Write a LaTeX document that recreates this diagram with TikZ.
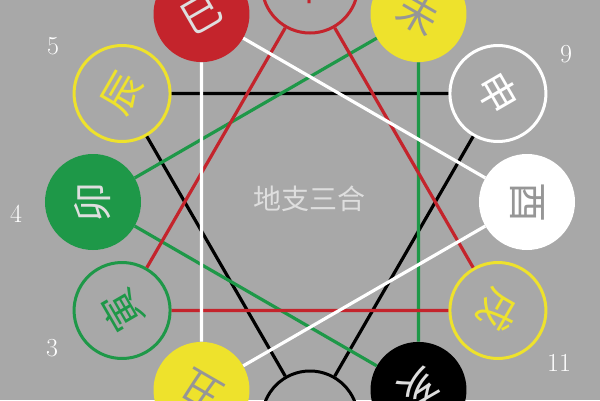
\documentclass[tikz,border=0pt]{standalone}
\usepackage{fontspec}
\usepackage{tikz}
\newfontfamily\cjk{Noto Sans CJK SC}
\definecolor{bg}{RGB}{168,168,168}
\definecolor{hred}{RGB}{196,36,44}
\definecolor{hyellow}{RGB}{238,226,44}
\definecolor{hgreen}{RGB}{30,152,72}
\definecolor{hgray}{RGB}{150,150,150}
\definecolor{hlight}{RGB}{222,222,222}

\begin{document}
\begin{tikzpicture}[x=1pt,y=1pt,
  branch/.style={circle,inner sep=0pt,minimum size=96pt,
    font=\cjk\fontsize{40}{40}\selectfont},
  full/.style={branch,fill=#1},
  ring/.style={branch,draw=#1,fill=bg,text=#1,line width=3pt},
  tri/.style={draw=#1,line width=3.2pt},
  num/.style={text=white,font=\fontsize{26}{26}\selectfont}]
\useasboundingbox (-310,-198) rectangle (290,202);
\clip (-310,-198) rectangle (290,202);
\fill[bg] (-310,-198) rectangle (290,202);
% the twelve branches, tops pointing outwards
\node[ring=black, rotate=180] (zi) at (270:217) {子};
\node[full=hyellow, text=hgray, rotate=150] (chou) at (240:217) {丑};
\node[ring=hgreen, rotate=120] (yin) at (210:217) {寅};
\node[full=hgreen, text=hlight, rotate=90] (mao) at (180:217) {卯};
\node[ring=hyellow, rotate=60] (chen) at (150:217) {辰};
\node[full=hred, text=hlight, rotate=30] (si) at (120:217) {巳};
\node[ring=hred] (wu) at (90:217) {午};
\node[full=hyellow, text=hgray, rotate=-30] (wei) at (60:217) {未};
\node[ring=white, rotate=-60] (shen) at (30:217) {申};
\node[full=white, text=hgray, rotate=-90] (you) at (0:217) {酉};
\node[ring=hyellow, rotate=-120] (xu) at (-30:217) {戌};
\node[full=black, text=hlight, rotate=-150] (hai) at (-60:217) {亥};
\node[text=hlight, font=\cjk\fontsize{28}{28}\selectfont] (title) at (0,3) {地支三合};
% numbers
\node[num] (n5) at (-257,156) {5};
\node[num] (n4) at (-294,-12) {4};
\node[num] (n3) at (-258,-146) {3};
\node[num] (n9) at (256,148) {9};
\node[num] (n11) at (249,-161) {11};
% the four triangles
\draw[tri=black] (chen) -- (shen) -- (zi) -- (chen);
\draw[tri=hgreen] (mao) -- (wei) -- (hai) -- (mao);
\draw[tri=hred] (yin) -- (wu) -- (xu) -- (yin);
\draw[tri=white] (si) -- (you) -- (chou) -- (si);
\end{tikzpicture}
\end{document}
